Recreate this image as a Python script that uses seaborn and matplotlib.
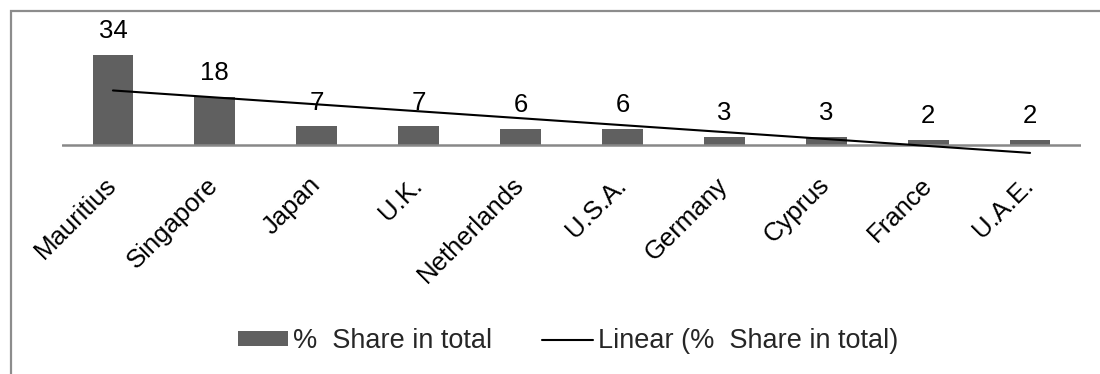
import numpy as np
import pandas as pd
import matplotlib
matplotlib.use("Agg")
import matplotlib.pyplot as plt
from matplotlib.patches import Patch, Rectangle
from matplotlib.lines import Line2D
import seaborn as sns

countries = ["Mauritius", "Singapore", "Japan", "U.K.", "Netherlands",
             "U.S.A.", "Germany", "Cyprus", "France", "U.A.E."]
share = [34, 18, 7, 7, 6, 6, 3, 3, 2, 2]
series_name = "%  Share in total"
trend_name = "Linear (%  Share in total)"

sns.set_theme(style="white")
plt.rcParams["font.family"] = ["Liberation Sans", "DejaVu Sans"]

BAR = "#606060"
GRID = "#888888"

df = pd.DataFrame({"country": countries, "share": share})

fig = plt.figure(figsize=(11, 3.74), dpi=100)
ax = fig.add_axes([62 / 1100, 1 - 155.6 / 374, (1081 - 62) / 1100, (155.6 - 25.75) / 374])

sns.barplot(data=df, x="country", y="share", color=BAR, saturation=1,
            width=0.4, ax=ax, linewidth=0)

# linear trend over the category positions
sns.regplot(x=np.arange(len(share)), y=np.array(share, dtype=float), scatter=False,
            ci=None, truncate=True, ax=ax,
            line_kws={"color": "black", "lw": 1.5, "zorder": 4})

ax.axhline(0, color=GRID, lw=1.8, zorder=1)

for i, v in enumerate(share):
    ax.annotate(f"{v}", (i, v), xytext=(0, 8.5), textcoords="offset points",
                ha="center", va="bottom", fontsize=18.5, color="black",
                annotation_clip=False)

ax.set_xlim(-0.5, len(share) - 0.5)
ax.set_ylim(-4, 45)
ax.set_xlabel("")
ax.set_ylabel("")
ax.set_yticks([])
for s in ax.spines.values():
    s.set_visible(False)
ax.tick_params(axis="x", length=0, pad=18.5)
for lab in ax.get_xticklabels():
    lab.set_rotation(45)
    lab.set_ha("right")
    lab.set_va("center")
    lab.set_rotation_mode("anchor")
    lab.set_fontsize(18.5)
    lab.set_color("black")

handles = [Patch(facecolor=BAR, edgecolor="none"),
           Line2D([0], [0], color="black", lw=1.5)]
fig.legend(handles, [series_name, trend_name], loc="center",
           bbox_to_anchor=(568 / 1100, 1 - 341 / 374), ncol=2, frameon=False,
           fontsize=19.5, handlelength=1.85, handleheight=0.45,
           handletextpad=0.2, columnspacing=1.85)

fig.add_artist(Rectangle((10.5 / 1100, -0.2), 1.2, 1.2 - 10.5 / 374,
                         transform=fig.transFigure, fill=False,
                         edgecolor="#8c8c8c", lw=1.6))

fig.savefig("out.png", dpi=100)
